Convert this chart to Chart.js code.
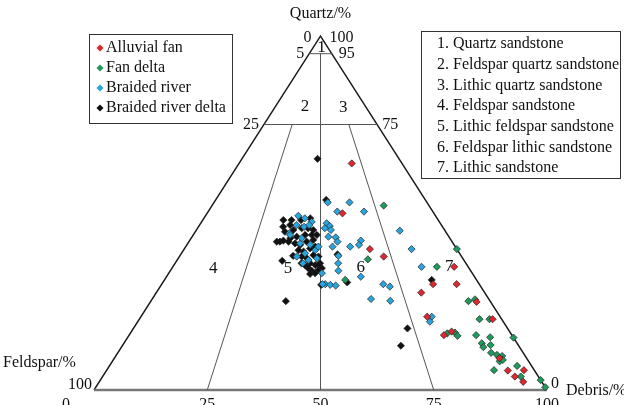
<!DOCTYPE html>
<html>
<head>
<meta charset="utf-8">
<script src="https://cdn.jsdelivr.net/npm/chart.js@4"></script>
<style>
  html, body { margin: 0; padding: 0; background: #fff; }
  #wrap { width: 624px; height: 405px; position: relative; }
</style>
</head>
<body>
<div id="wrap"><canvas id="tri"></canvas></div>
<script>
// sample compositions, [quartz, feldspar, debris] in %
const alluvialFan = [
  [64.0, 11.1, 24.9], [49.9, 20.2, 29.9], [39.8, 19.2, 41.0], [37.7, 17.2, 45.1],
  [34.8, 3.1, 62.1], [29.9, 10.2, 59.9], [29.9, 5.0, 65.1], [27.5, 14.0, 58.5],
  [20.7, 16.1, 63.2], [24.9, 3.1, 72.0], [20.0, 2.0, 78.0], [15.5, 15.0, 69.5],
  [16.5, 12.8, 70.7], [9.0, 6.0, 85.0], [5.5, 5.9, 88.6], [5.6, 2.3, 92.1],
  [3.8, 5.2, 91.0], [2.3, 4.1, 93.6]
];
const fanDelta = [
  [52.1, 10.0, 37.9], [36.9, 21.1, 42.0], [31.1, 29.0, 39.9], [34.8, 6.9, 58.3],
  [39.8, 0, 60.2], [25.1, 4.8, 70.1], [25.6, 3.1, 71.3], [20.0, 4.9, 75.1],
  [20.0, 2.7, 77.3], [16.0, 14.0, 70.0], [16.2, 12.2, 71.6], [15.3, 12.1, 72.6],
  [15.5, 7.9, 76.6], [14.9, 5.1, 80.0], [14.8, 0, 85.2], [13.2, 7.8, 79.0],
  [12.1, 8.0, 79.9], [12.7, 6.1, 81.2], [10.5, 7.1, 82.4], [9.9, 6.1, 84.0],
  [9.6, 5.1, 85.3], [8.1, 6.4, 85.5], [8.5, 5.5, 86.0], [5.6, 8.9, 85.5],
  [6.8, 3.2, 90.0], [3.8, 3.9, 92.3], [2.8, 0, 97.2], [0.8, 0, 99.2]
];
const braidedRiver = [
  [53.0, 21.9, 25.1], [53.0, 17.1, 29.9], [50.4, 21.1, 28.5], [50.4, 15.2, 34.4],
  [45.0, 10.0, 45.0], [39.8, 10.0, 50.2], [34.8, 10.3, 54.9], [47.1, 25.1, 27.8],
  [46.3, 24.8, 28.9], [45.2, 25.1, 29.7], [45.7, 26.2, 28.1], [43.3, 26.6, 30.1],
  [43.1, 25.1, 31.8], [41.9, 25.3, 32.8], [42.2, 20.0, 37.8], [41.0, 21.0, 38.0],
  [40.5, 23.2, 36.3], [40.5, 27.1, 32.4], [37.9, 27.1, 35.0], [35.8, 28.2, 36.0],
  [33.7, 29.2, 37.1], [32.0, 25.1, 42.9], [29.9, 34.0, 36.1], [29.7, 33.0, 37.3],
  [29.5, 31.9, 38.6], [29.9, 34.6, 35.5], [29.9, 21.2, 48.9], [29.2, 20.1, 50.7],
  [25.7, 26.0, 48.3], [25.2, 22.0, 52.8], [20.7, 15.1, 64.2], [19.3, 16.2, 64.5],
  [33.0, 33.2, 33.8], [49.2, 30.3, 20.5], [48.5, 29.2, 22.3], [47.5, 28.2, 24.3],
  [46.6, 32.0, 21.4], [46.1, 30.6, 23.3], [46.6, 29.2, 24.2], [44.3, 34.7, 21.0],
  [42.9, 32.7, 24.4], [41.0, 31.8, 27.2], [39.5, 31.4, 29.1], [38.6, 34.1, 27.3],
  [37.2, 32.2, 30.6], [40.5, 30.2, 29.3], [37.7, 36.4, 25.9], [35.8, 36.0, 28.2],
  [43.8, 34.8, 21.4], [41.4, 33.8, 24.8], [36.7, 34.3, 29.0]
];
const braidedRiverDelta = [
  [65.3, 18.0, 16.7], [53.7, 21.9, 24.4], [38.3, 27.1, 34.6], [30.4, 28.9, 40.7],
  [29.7, 35.0, 35.3], [31.1, 9.9, 59.0], [17.4, 22.1, 60.5], [12.5, 26.0, 61.5],
  [25.1, 45.1, 29.8], [36.5, 40.2, 23.3], [41.9, 38.7, 19.4], [41.9, 38.0, 20.1],
  [42.2, 37.1, 20.7], [48.0, 34.2, 17.8], [48.0, 32.4, 19.6], [48.0, 30.3, 21.7],
  [48.5, 28.0, 23.5], [46.1, 35.2, 18.7], [46.6, 33.4, 20.0], [44.7, 35.5, 19.8],
  [45.2, 33.4, 21.4], [45.7, 31.3, 23.0], [45.7, 29.9, 24.4], [45.2, 29.0, 25.8],
  [42.9, 35.2, 21.9], [43.3, 33.6, 23.1], [43.8, 31.5, 24.7], [43.8, 30.0, 26.2],
  [43.8, 28.9, 27.3], [41.4, 34.9, 23.7], [41.0, 34.0, 25.0], [41.9, 32.1, 26.0],
  [42.4, 30.4, 27.2], [39.5, 35.1, 25.4], [39.1, 34.2, 26.7], [40.0, 32.3, 27.7],
  [40.5, 30.9, 28.6], [37.7, 35.3, 27.0], [37.2, 34.4, 28.4], [38.1, 32.5, 29.4],
  [37.7, 31.6, 30.7], [35.8, 34.4, 29.8], [35.3, 33.5, 31.2], [35.8, 32.2, 32.0],
  [41.9, 36.1, 22.0], [34.4, 32.5, 33.1], [35.3, 32.8, 31.9], [35.8, 36.3, 27.9],
  [35.3, 35.8, 28.9], [34.4, 35.5, 30.1], [33.7, 35.1, 31.2], [33.0, 34.7, 32.3],
  [32.8, 35.9, 31.3], [33.9, 33.5, 32.6], [37.9, 37.1, 25.0]
];

const seriesNames = ['Alluvial fan', 'Fan delta', 'Braided river', 'Braided river delta'];
const seriesColors = ['#e0262e', '#1d9a5c', '#29a4dc', '#111111'];
const rockClasses = [
  '1. Quartz sandstone', '2. Feldspar quartz sandstone', '3. Lithic quartz sandstone',
  '4. Feldspar sandstone', '5. Lithic feldspar sandstone', '6. Feldspar lithic sandstone',
  '7. Lithic sandstone'
];
const baseTicks = ['0', '25', '50', '75', '100'];

// field boundaries, as compositions [quartz, feldspar, debris]
const sideEdges = [[0, 100, 0], [100, 0, 0], [0, 0, 100]];
const baseEdge = [[0, 100, 0], [0, 0, 100]];
const q95Line = [[95, 5, 0], [95, 0, 5]];
const q75Line = [[75, 25, 0], [75, 0, 25]];
const midLine = [[95, 2.5, 2.5], [0, 50, 50]];
const fr31Line = [[75, 18.75, 6.25], [0, 75, 25]];
const fr13Line = [[75, 6.25, 18.75], [0, 25, 75]];

// ternary -> cartesian: x runs feldspar pole (0) to debris pole (100), y = quartz
function toXY(c) { return { x: c[2] + c[0] / 2, y: c[0] }; }

function lineSet(pts, color, width) {
  return {
    type: 'line', data: pts.map(toXY), borderColor: color, borderWidth: width,
    pointRadius: 0, fill: false, tension: 0, order: 10, clip: false
  };
}
function pointSet(label, pts, color, order) {
  return {
    type: 'scatter', label: label, data: pts.map(toXY),
    pointStyle: 'rectRot', pointRadius: 3.6, pointBackgroundColor: color,
    pointBorderColor: '#222', pointBorderWidth: 0.7, order: order, clip: false
  };
}

const serif = '"Liberation Serif", "Times New Roman", serif';

const textPlugin = {
  id: 'ternaryText',
  afterDraw(chart) {
    const ctx = chart.ctx;
    const sx = chart.scales.x, sy = chart.scales.y;
    const px = v => sx.getPixelForValue(v), py = v => sy.getPixelForValue(v);
    ctx.save();
    ctx.fillStyle = '#111';
    ctx.font = '16px ' + serif;
    ctx.textBaseline = 'middle';

    const put = (t, x, y, align) => { ctx.textAlign = align || 'center'; ctx.fillText(t, x, y); };

    // apex
    put('Quartz/%', px(50), py(100) - 22);
    put('0', px(50) - 9, py(100) + 2, 'right');
    put('100', px(50) + 9, py(100) + 2, 'left');
    put('5', px(47.5) - 5, py(95), 'right');
    put('95', px(52.5) + 7, py(95), 'left');
    put('25', px(37.5) - 5, py(75), 'right');
    put('75', px(62.5) + 5, py(75), 'left');

    // base
    put('Feldspar/%', 3, py(0) - 27, 'left');
    put('100', px(0) - 2, py(0) - 5, 'right');
    put('0', px(100) + 4, py(0) - 6, 'left');
    put('Debris/%', px(100) + 19, py(0) + 1, 'left');
    baseTicks.forEach((t, i) => {
      const x = i === 0 ? px(0) - 28 : px(i * 25);
      put(t, x, py(0) + 15);
    });

    // field numbers
    ctx.font = '17px ' + serif;
    put('1', px(50.2), py(96.8));
    put('2', px(46.6), py(80.2));
    put('3', px(55.0), py(79.9));
    put('4', px(26.3), py(34.2));
    put('5', px(42.8), py(34.2));
    put('6', px(58.9), py(34.7));
    put('7', px(78.4), py(35.0));

    // series key
    ctx.font = '16px ' + serif;
    ctx.strokeStyle = '#333';
    ctx.lineWidth = 1;
    ctx.strokeRect(89.5, 34.5, 143, 89);
    seriesNames.forEach((n, i) => {
      const y = 48 + i * 20;
      ctx.save();
      ctx.translate(100, y);
      ctx.rotate(Math.PI / 4);
      ctx.fillStyle = seriesColors[i];
      ctx.fillRect(-2.5, -2.5, 5, 5);
      ctx.restore();
      put(n, 106, y, 'left');
    });

    // rock class key
    ctx.strokeRect(421.5, 31.5, 199, 147);
    rockClasses.forEach((n, i) => put(n, 437, 44 + i * 20.7, 'left'));
    ctx.restore();
  }
};

new Chart(document.getElementById('tri'), {
  type: 'scatter',
  data: {
    datasets: [
      pointSet(seriesNames[3], braidedRiverDelta, seriesColors[3], 4),
      pointSet(seriesNames[2], braidedRiver, seriesColors[2], 3),
      pointSet(seriesNames[1], fanDelta, seriesColors[1], 2),
      pointSet(seriesNames[0], alluvialFan, seriesColors[0], 1),
      lineSet(q95Line, '#555', 1),
      lineSet(q75Line, '#555', 1),
      lineSet(midLine, '#555', 1),
      lineSet(fr31Line, '#555', 1),
      lineSet(fr13Line, '#555', 1),
      lineSet(baseEdge, '#777', 2.5),
      lineSet(sideEdges, '#1a1a1a', 1.4)
    ]
  },
  options: {
    responsive: true, maintainAspectRatio: false, animation: false,
    layout: { padding: { left: 94, right: 77, top: 36, bottom: 15 } },
    scales: {
      x: { type: 'linear', min: 0, max: 100, display: false },
      y: { type: 'linear', min: 0, max: 100, display: false }
    },
    plugins: { legend: { display: false }, tooltip: { enabled: false } }
  },
  plugins: [textPlugin]
});
</script>
</body>
</html>
